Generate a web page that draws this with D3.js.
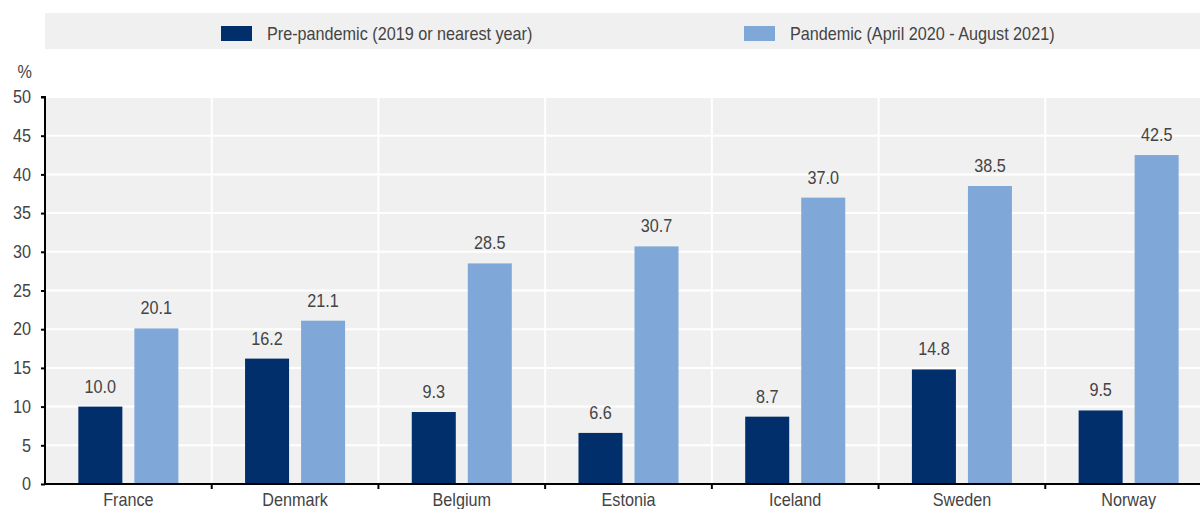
<!DOCTYPE html>
<html>
<head>
<meta charset="utf-8">
<script src="https://cdn.jsdelivr.net/npm/d3@7"></script>
<style>
  body { margin: 0; background: #fff; }
  svg text { font-family: "Liberation Sans Narrow", "Arial Narrow", "Liberation Sans", sans-serif; fill: #444; }
</style>
</head>
<body>
<script>
// data
var countries = ["France", "Denmark", "Belgium", "Estonia", "Iceland", "Sweden", "Norway"];
var seriesNames = ["Pre-pandemic (2019 or nearest year)", "Pandemic (April 2020 - August 2021)"];
var prePandemic = [10.0, 16.2, 9.3, 6.6, 8.7, 14.8, 9.5];
var pandemic = [20.1, 21.1, 28.5, 30.7, 37.0, 38.5, 42.5];
var yTicks = [0, 5, 10, 15, 20, 25, 30, 35, 40, 45, 50];
var colors = ["#002F6C", "#7FA8D9"];

var width = 1200, height = 509;
var margin = {top: 97, right: -12, bottom: 25, left: 45};
var narrow = 0.9; // no narrow font installed, so squeeze the text horizontally

var svg = d3.select("body").append("svg")
    .attr("width", width)
    .attr("height", height);

// squeeze a text element around its own x position
function squeeze(sel) {
    sel.each(function() {
        var t = d3.select(this);
        var x = +t.attr("x") || 0;
        t.attr("x", x / narrow).attr("transform", "scale(" + narrow + ",1)");
    });
}

// x scales: countries, then the two series inside each country
var x0 = d3.scaleBand()
    .domain(countries)
    .range([margin.left, width - margin.right])
    .paddingInner(0.4)
    .paddingOuter(0.2);

var x1 = d3.scaleBand()
    .domain([0, 1])
    .range([0, x0.bandwidth()])
    .paddingInner(12 / 56);

var y = d3.scaleLinear()
    .domain([0, 50])
    .range([height - margin.bottom, margin.top]);

var step = x0.step();

// legend
var legend = svg.append("g");
legend.append("rect")
    .attr("x", 45).attr("y", 13)
    .attr("width", width - 45).attr("height", 36)
    .attr("fill", "#f0f0f0");
var legendX = [221, 744];
seriesNames.forEach(function(name, i) {
    legend.append("rect")
        .attr("x", legendX[i]).attr("y", 26)
        .attr("width", 31).attr("height", 15)
        .attr("fill", colors[i]);
    legend.append("text")
        .attr("x", legendX[i] + 46).attr("y", 40)
        .style("font-size", "18px")
        .text(name)
        .call(squeeze);
});

// plot background
svg.append("rect")
    .attr("x", margin.left).attr("y", y(50))
    .attr("width", width - margin.left).attr("height", y(0) - y(50))
    .attr("fill", "#f0f0f0");

// horizontal grid
svg.append("g").selectAll("line")
    .data(yTicks.slice(1))
    .join("line")
    .attr("x1", margin.left).attr("x2", width)
    .attr("y1", function(d) { return y(d); })
    .attr("y2", function(d) { return y(d); })
    .attr("stroke", "#fff").attr("stroke-width", 2);

// vertical grid between countries
svg.append("g").selectAll("line")
    .data(countries.slice(1))
    .join("line")
    .attr("x1", function(d) { return x0(d) - step * 0.2; })
    .attr("x2", function(d) { return x0(d) - step * 0.2; })
    .attr("y1", y(50)).attr("y2", y(0))
    .attr("stroke", "#fff").attr("stroke-width", 2);

// bars
var rows = countries.map(function(c, i) {
    return {country: c, values: [prePandemic[i], pandemic[i]]};
});

var groups = svg.append("g").selectAll("g")
    .data(rows)
    .join("g")
    .attr("transform", function(d) { return "translate(" + x0(d.country) + ",0)"; });

groups.selectAll("rect")
    .data(function(d) { return d.values; })
    .join("rect")
    .attr("x", function(d, i) { return x1(i); })
    .attr("y", function(d) { return y(d); })
    .attr("width", x1.bandwidth())
    .attr("height", function(d) { return y(0) - y(d); })
    .attr("fill", function(d, i) { return colors[i]; });

groups.selectAll("text")
    .data(function(d) { return d.values; })
    .join("text")
    .attr("x", function(d, i) { return x1(i) + x1.bandwidth() / 2; })
    .attr("y", function(d) { return y(d) - 14; })
    .attr("text-anchor", "middle")
    .style("font-size", "18px")
    .text(function(d) { return d.toFixed(1); })
    .call(squeeze);

// y axis
var yAxis = svg.append("g")
    .attr("transform", "translate(" + margin.left + ",0)")
    .call(d3.axisLeft(y).tickValues(yTicks).tickSize(4).tickPadding(10));
yAxis.select(".domain").attr("stroke", "#000").attr("stroke-width", 2)
    .attr("d", "M-4," + y(50) + "H0V" + y(0));
yAxis.selectAll(".tick line").attr("stroke", "#000").attr("stroke-width", 2);
yAxis.selectAll(".tick text")
    .style("font-size", "18px")
    .attr("fill", "#444")
    .call(squeeze);

svg.append("text")
    .attr("x", 32).attr("y", 78)
    .attr("text-anchor", "end")
    .style("font-size", "18px")
    .text("%")
    .call(squeeze);

// x axis
var xAxis = svg.append("g")
    .attr("transform", "translate(0," + y(0) + ")")
    .call(d3.axisBottom(x0).tickSize(0).tickPadding(9));
xAxis.select(".domain").attr("stroke", "#000").attr("stroke-width", 2)
    .attr("d", "M" + margin.left + ",0H" + width);
xAxis.selectAll(".tick text")
    .style("font-size", "18px")
    .attr("fill", "#444")
    .call(squeeze);

// small ticks between countries
svg.append("g").selectAll("line")
    .data(countries.slice(1))
    .join("line")
    .attr("x1", function(d) { return x0(d) - step * 0.2; })
    .attr("x2", function(d) { return x0(d) - step * 0.2; })
    .attr("y1", y(0)).attr("y2", y(0) + 5)
    .attr("stroke", "#000").attr("stroke-width", 2);
</script>
</body>
</html>
